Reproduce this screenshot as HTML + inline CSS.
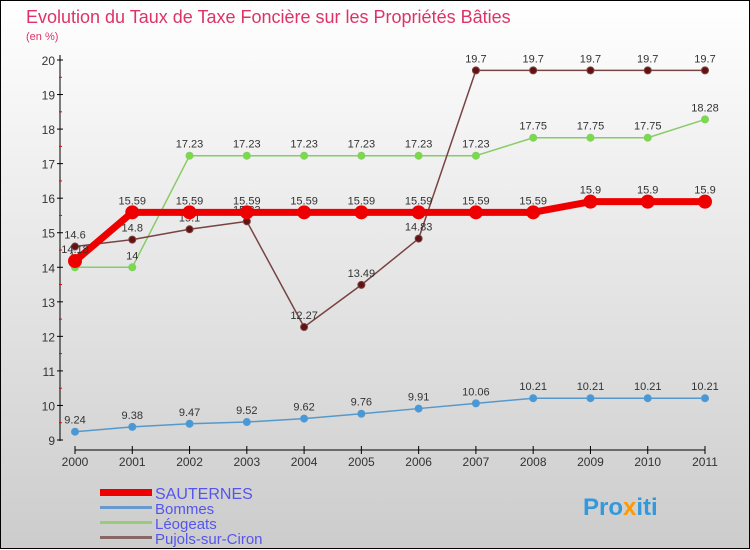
<!DOCTYPE html>
<html><head><meta charset="utf-8"><style>
body{margin:0;}
#c{width:750px;height:550px;position:relative;overflow:hidden;font-family:"Liberation Sans",sans-serif;}
svg text{font-family:"Liberation Sans",sans-serif;}
</style></head><body>
<div id="c">
<svg id="s" width="750" height="550" xmlns="http://www.w3.org/2000/svg">
<defs><linearGradient id="bg" x1="0" y1="0" x2="0" y2="1"><stop offset="0" stop-color="#ffffff"/><stop offset="1" stop-color="#cccccc"/></linearGradient></defs>
<rect x="0.5" y="0.5" width="749" height="548" fill="url(#bg)" stroke="#000"/>
<text x="26" y="23" font-size="18" fill="#dd3366">Evolution du Taux de Taxe Foncière sur les Propriétés Bâties</text>
<text x="26" y="40" font-size="11" fill="#dd3366">(en %)</text>
<g id="g"></g>
<g>
<rect x="100" y="489" width="52" height="7" fill="#ee0000"/>
<text x="155" y="499" font-size="16" fill="#5555ee">SAUTERNES</text>
<rect x="100" y="506" width="52" height="3" fill="#6699cc"/>
<text x="155" y="514" font-size="15" fill="#5555ee">Bommes</text>
<rect x="100" y="521" width="52" height="3" fill="#99cc77"/>
<text x="155" y="529" font-size="15" fill="#5555ee">Léogeats</text>
<rect x="100" y="536" width="52" height="3" fill="#886666"/>
<text x="155" y="544" font-size="15" fill="#5555ee">Pujols-sur-Ciron</text>
</g>
<text x="583" y="515" font-size="24" font-weight="bold" fill="#3399dd">Pro<tspan fill="#ff9900">x</tspan>iti</text>
</svg></div>
<script>
const years=[2000,2001,2002,2003,2004,2005,2006,2007,2008,2009,2010,2011];
const sauternes=[14.18,15.59,15.59,15.59,15.59,15.59,15.59,15.59,15.59,15.9,15.9,15.9];
const bommes=[9.24,9.38,9.47,9.52,9.62,9.76,9.91,10.06,10.21,10.21,10.21,10.21];
const leogeats=[14,14,17.23,17.23,17.23,17.23,17.23,17.23,17.75,17.75,17.75,18.28];
const pujols=[14.6,14.8,15.1,15.33,12.27,13.49,14.83,19.7,19.7,19.7,19.7,19.7];
const yTicks=[9,10,11,12,13,14,15,16,17,18,19,20];
const NS="http://www.w3.org/2000/svg";
const g=document.getElementById('g');
const X=i=>75+i*(705-75)/11;
const Y=v=>440-(v-9)*(380/11);
function mk(t,a){const e=document.createElementNS(NS,t);for(const k in a)e.setAttribute(k,a[k]);g.appendChild(e);return e;}
let ax=mk('line',{x1:60,y1:55,x2:60,y2:441,stroke:'#000'});


let bx=mk('line',{x1:75,y1:450,x2:705,y2:450,stroke:'#000'});


yTicks.forEach(v=>{
 mk('line',{x1:57,y1:Y(v),x2:63,y2:Y(v),stroke:'#000'});
 if(v<20)mk('line',{x1:59,y1:Y(v+0.5),x2:62,y2:Y(v+0.5),stroke:'#e00'});
 const t=mk('text',{x:55,y:Y(v)+5,'font-size':12,'text-anchor':'end',fill:'#333'});t.textContent=v;
 
 
});
years.forEach((yr,i)=>{
 mk('line',{x1:X(i),y1:446,x2:X(i),y2:454,stroke:'#000'});
 const t=mk('text',{x:X(i),y:466,'font-size':12,'text-anchor':'middle',fill:'#333'});t.textContent=yr;
 
 
});
function series(d,col,w,r,name,dot){
 const p=mk('polyline',{points:d.map((v,i)=>X(i)+','+Y(v)).join(' '),fill:'none',stroke:col,'stroke-width':w,'stroke-linejoin':'round'});
 
 
 d.forEach((v,i)=>{
  const c=mk('circle',{cx:X(i),cy:Y(v),r:r,fill:dot,stroke:col,'stroke-width':1});
  
  
  const t=mk('text',{x:X(i),y:Y(v)-8,'font-size':11,'text-anchor':'middle',fill:'#333'});t.textContent=v;
  
  
 });
}
series(bommes,'#5599cc',1.5,3.5,'bommes','#4499dd');
series(leogeats,'#88cc66',1.5,3.5,'leogeats','#77dd44');
series(pujols,'#774444',1.5,3.5,'pujols','#661111');
series(sauternes,'#ee0000',7,6.5,'sauternes','#ee0000');
</script>
</body></html>
